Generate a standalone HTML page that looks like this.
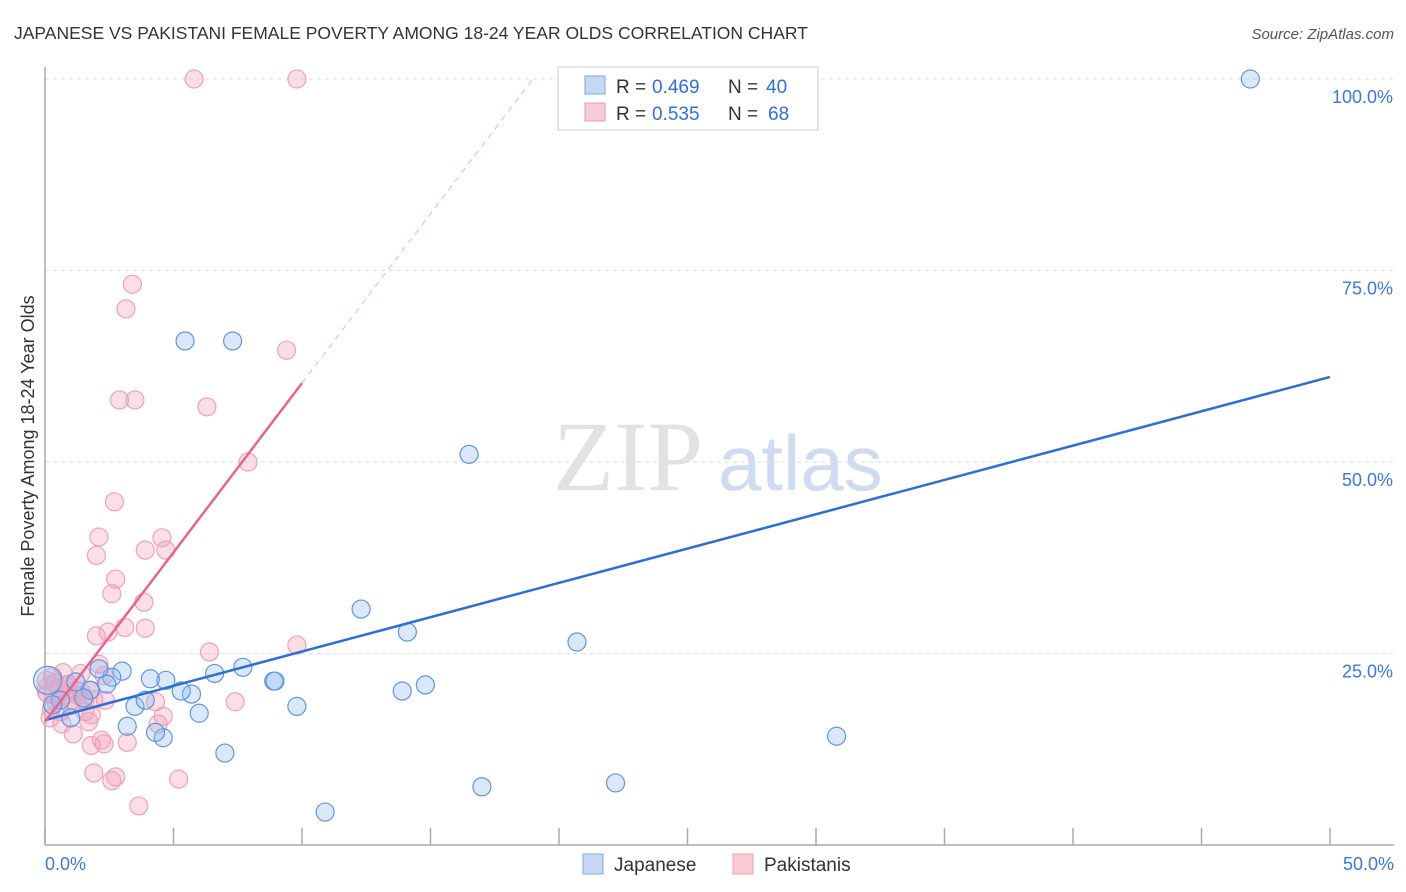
<!DOCTYPE html>
<html><head><meta charset="utf-8"><style>
body{margin:0;background:#fff;font-family:"Liberation Sans",sans-serif}
svg{display:block}
</style></head><body>
<svg id="chart" width="1406" height="892">
<text x="14" y="39" font-size="17.5" fill="#333">JAPANESE VS PAKISTANI FEMALE POVERTY AMONG 18-24 YEAR OLDS CORRELATION CHART</text>
<text x="1394" y="39" font-size="15" font-style="italic" fill="#555" text-anchor="end">Source: ZipAtlas.com</text>
<text x="553" y="490" font-size="100" font-family="Liberation Serif,serif" fill="#e2e2e2">ZIP</text>
<text x="718" y="490" font-size="78" fill="#cfdcef">atlas</text>
<g id="grid"></g><g id="axes"></g><g id="pts"></g><g id="lines"></g>
<text transform="translate(34,456) rotate(-90)" font-size="18" fill="#333" text-anchor="middle">Female Poverty Among 18-24 Year Olds</text>
<g>
<rect x="558" y="67" width="260" height="63" fill="#fff" stroke="#ccc"/>
<rect x="585" y="76" width="20" height="18" fill="#c5d9f5" stroke="#7aa6e6"/>
<rect x="585" y="103" width="20" height="18" fill="#f9cbd7" stroke="#ef9ab3"/>
<text x="616" y="93" font-size="19" fill="#333">R =</text><text x="652" y="93" font-size="19" fill="#2f6fd8">0.469</text>
<text x="728" y="93" font-size="19" fill="#333">N =</text><text x="766" y="93" font-size="19" fill="#2f6fd8">40</text>
<text x="616" y="120" font-size="19" fill="#333">R =</text><text x="652" y="120" font-size="19" fill="#2f6fd8">0.535</text>
<text x="728" y="120" font-size="19" fill="#333">N =</text><text x="768" y="120" font-size="19" fill="#2f6fd8">68</text>
</g>
<g>
<rect x="583" y="854" width="20" height="20" fill="#c5d9f5" stroke="#7aa6e6"/>
<text x="614" y="871" font-size="19" fill="#333">Japanese</text>
<rect x="733" y="854" width="20" height="20" fill="#f9cbd7" stroke="#ef9ab3"/>
<text x="764" y="871" font-size="19" fill="#333">Pakistanis</text>
</g>
</svg>
<script>
const jpX=[46.9,5.45,7.3,16.5,12.3,14.1,20.7,30.8,17.0,22.2,10.9,7.0,9.8,13.9,14.8,8.9,8.95,7.7,6.6,6.0,5.7,5.3,4.7,4.1,4.6,4.3,3.5,3.2,3.0,2.6,2.4,2.1,1.75,1.5,1.0,0.6,0.1,0.3,3.9,1.2];
const jpY=[100,65.8,65.8,51.0,30.8,27.8,26.5,14.2,7.6,8.1,4.3,12.0,18.1,20.1,20.9,21.4,21.4,23.2,22.4,17.2,19.7,20.1,21.5,21.7,14.0,14.7,18.1,15.5,22.7,21.9,21.0,23.0,20.2,19.2,16.6,18.9,21.5,18.3,18.9,21.3];
const pkX=[5.8,9.8,3.4,3.15,9.4,2.9,3.5,6.3,7.9,2.7,2.1,4.55,3.9,4.7,2.0,2.75,2.6,3.85,3.1,3.9,2.45,2.0,9.8,6.4,2.1,1.4,2.3,1.8,7.4,4.3,4.6,4.4,1.8,1.7,0.66,1.1,2.2,1.8,2.3,3.2,1.9,2.75,2.6,5.2,3.65,0.2,0.05,0.4,0.8,1.05,1.55,1.2,0.6,0.2,1.55,2.35,0.3,0.9,1.3,0.5,0.1,1.0,0.7,1.9,0.4,1.4,0.25,0.8];
const pkY=[100,100,73.2,70.0,64.6,58.1,58.1,57.2,50.0,44.8,40.2,40.1,38.5,38.5,37.8,34.7,32.8,31.7,28.4,28.3,27.8,27.3,26.1,25.2,23.6,22.4,22.1,20.2,18.7,18.7,16.8,15.8,17.0,16.1,15.8,14.5,13.7,13.0,13.2,13.4,9.4,8.9,8.4,8.6,5.1,20.2,21.5,18.9,19.6,18.9,18.9,20.2,17.4,16.6,17.4,18.9,22.0,21.0,19.5,20.5,19.8,18.2,22.5,19.0,21.2,20.0,17.8,20.8];
const jpTrend=[16.3,61.1];
const pkTrend=[16.1,60.3];
const yTicks=[25,50,75,100];
const yTickLabels=["25.0%","50.0%","75.0%","100.0%"];
const xTickLabels=["0.0%","50.0%"];
const NS="http://www.w3.org/2000/svg";
const X=v=>45+v/50*1285, Y=v=>845-v/100*766;
function mk(p,t,a){const e=document.createElementNS(NS,t);for(const k in a)e.setAttribute(k,a[k]);p.appendChild(e);return e;}
const grid=document.getElementById('grid'),axes=document.getElementById('axes'),pts=document.getElementById('pts'),lines=document.getElementById('lines');
yTicks.forEach((t,i)=>{
 const l=mk(grid,'line',{x1:45,x2:1394,y1:Y(t),y2:Y(t),stroke:'#ddd','stroke-dasharray':'4,4'});
 
 
 const tx=mk(axes,'text',{x:1393,y:Y(t)+24,'font-size':18,fill:'#3b78d8','text-anchor':'end'});
 tx.textContent=yTickLabels[i];
 
 
});
mk(axes,'line',{x1:45,x2:45,y1:67,y2:845,stroke:'#aaa','stroke-width':1.5});
mk(axes,'line',{x1:45,x2:1394,y1:845,y2:845,stroke:'#aaa','stroke-width':1.5});
for(let i=0;i<=10;i++){const tk=mk(axes,'line',{x1:X(i*5),x2:X(i*5),y1:828,y2:845,stroke:'#aaa','stroke-width':1.5});
 
 }
const xl0=mk(axes,'text',{x:45,y:870,'font-size':18,fill:'#3b78d8'});xl0.textContent=xTickLabels[0];


const xl1=mk(axes,'text',{x:1394,y:870,'font-size':18,fill:'#3b78d8','text-anchor':'end'});xl1.textContent=xTickLabels[1];


pkX.forEach((x,i)=>{const c=mk(pts,'circle',{cx:X(x),cy:Y(pkY[i]),r:i===45?13:9,fill:'rgba(244,160,185,0.35)',stroke:'#f0a0b8','stroke-width':1.2});
 
 });
jpX.forEach((x,i)=>{const c=mk(pts,'circle',{cx:X(x),cy:Y(jpY[i]),r:i===36?14:9,fill:'rgba(150,190,240,0.35)',stroke:'#5f95e0','stroke-width':1.2});
 
 });
const jl=mk(lines,'line',{x1:X(0),y1:Y(jpTrend[0]),x2:X(50),y2:Y(jpTrend[1]),stroke:'#2c6fd6','stroke-width':2.5});


const pl=mk(lines,'line',{x1:X(0),y1:Y(pkTrend[0]),x2:X(10),y2:Y(pkTrend[1]),stroke:'#e8648e','stroke-width':2.5});


const slope=(pkTrend[1]-pkTrend[0])/10, xe=(100-pkTrend[0])/slope;
const pd=mk(lines,'line',{x1:X(10),y1:Y(pkTrend[1]),x2:X(xe),y2:Y(100),stroke:'#f0b0c4','stroke-width':1,'stroke-dasharray':'6,5'});


</script>
</body></html>
